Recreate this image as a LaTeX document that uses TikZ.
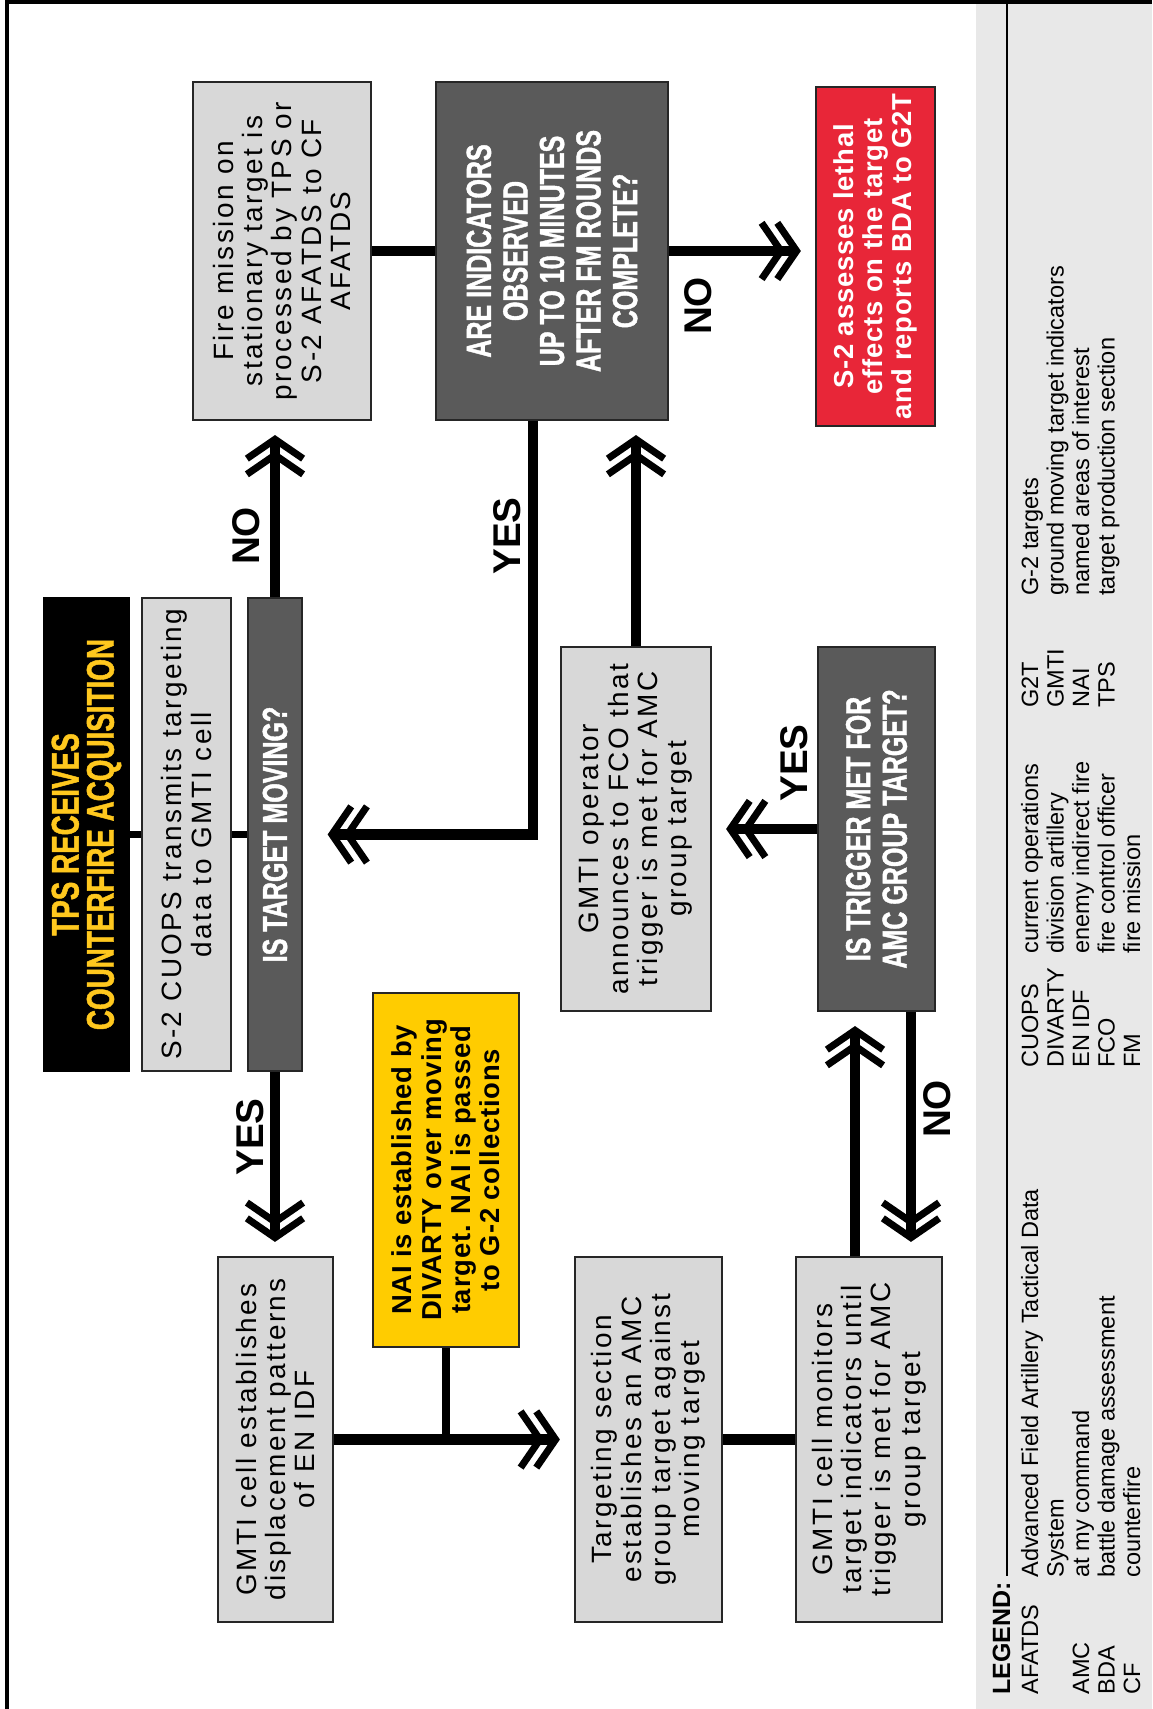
\documentclass[tikz,border=0pt]{standalone}
\usepackage{fontspec}
\setmainfont{Liberation Sans}
\newfontfamily\bodyfont{Liberation Sans}[LetterSpace=9]
\newfontfamily\boldbody{Liberation Sans}[LetterSpace=3]
\newfontfamily\headfont{Liberation Sans}[FakeStretch=0.72,FakeBold=1.2]
\usetikzlibrary{arrows.meta,positioning}

\definecolor{boxgray}{RGB}{216,216,216}
\definecolor{darkbox}{RGB}{90,90,90}
\definecolor{panelgray}{RGB}{232,232,232}
\definecolor{naiyellow}{RGB}{255,204,0}
\definecolor{titleyellow}{RGB}{255,200,30}
\definecolor{bdared}{RGB}{232,38,56}

\tikzset{
  box/.style={draw=black!85, line width=1.2pt, fill=boxgray, inner sep=0pt, align=center,
    font=\bodyfont\fontsize{15.9}{16.7}\selectfont},
  qbox/.style={box, fill=darkbox, text=white, font=\headfont\bfseries\fontsize{19.8}{20.8}\selectfont},
  titlebox/.style={box, draw=black, fill=black, text=titleyellow, font=\headfont\bfseries\fontsize{22}{20}\selectfont},
  redbox/.style={box, fill=bdared, text=white, font=\boldbody\bfseries\fontsize{15.6}{16.7}\selectfont},
  naibox/.style={box, fill=naiyellow, font=\boldbody\bfseries\fontsize{15.6}{16.7}\selectfont},
  lab/.style={inner sep=0pt, font=\bfseries\fontsize{22}{22}\selectfont},
  leg/.style={anchor=base west, inner sep=0pt, font=\fontsize{13.4}{14}\selectfont},
  link/.style={line width=5.8pt},
  thinlink/.style={line width=4.5pt},
  chev/.style={-{Straight Barb[length=11pt,width=32pt,line width=4pt,sep=-6.5pt]Straight Barb[length=11pt,width=32pt,line width=4pt]}, shorten >=8pt}
}

\begin{document}
\begin{tikzpicture}[x=0.02cm, y=0.02cm]
\begin{scope}[rotate=90, transform shape]
\useasboundingbox (0,0) rectangle (1709,1152);
% legend panel and frame
\fill[panelgray] (0,0) rectangle (1709,176);
\draw[line width=2.8pt] (0,1145) -- (1707,1145) -- (1707,0);

% boxes
\node[titlebox, minimum width=9.46cm, minimum height=1.70cm] (title) at (874.5,1065.5) {TPS RECEIVES\\COUNTERFIRE ACQUISITION};
\node[box, minimum width=9.46cm, minimum height=1.78cm] (cuops) at (874.5,965.5) {S-2 CUOPS transmits targeting\\data to GMTI cell};
\node[qbox, minimum width=9.46cm, minimum height=1.08cm] (moving) at (874.5,877) {IS TARGET MOVING?};
\node[box, minimum width=6.76cm, minimum height=3.56cm] (fire) at (1458,870) {Fire mission on\\stationary target is\\processed by TPS or\\S-2 AFATDS to CF\\AFATDS};
\node[qbox, minimum width=6.76cm, minimum height=4.64cm] (indic) at (1458,600) {ARE INDICATORS\\OBSERVED\\UP TO 10 MINUTES\\AFTER FM ROUNDS\\COMPLETE?};
\node[redbox, minimum width=6.78cm, minimum height=2.38cm] (bda) at (1452.5,276.5) {S-2 assesses lethal\\effects on the target\\and reports BDA to G2T};
\node[box, minimum width=7.28cm, minimum height=3.00cm] (announce) at (880,516) {GMTI operator\\announces to FCO that\\trigger is met for AMC\\group target};
\node[qbox, minimum width=7.28cm, minimum height=2.34cm] (trigger) at (880,275.5) {IS TRIGGER MET FOR\\AMC GROUP TARGET?};
\node[naibox, minimum width=7.08cm, minimum height=2.92cm] (nai) at (539,706) {NAI is established by\\DIVARTY over moving\\target. NAI is passed\\to G-2 collections};
\node[box, minimum width=7.30cm, minimum height=2.30cm] (pattern) at (269.5,876.5) {GMTI cell establishes\\displacement patterns\\of EN IDF};
\node[box, minimum width=7.30cm, minimum height=2.94cm] (amc) at (269.5,503.5) {Targeting section\\establishes an AMC\\group target against\\moving target};
\node[box, minimum width=7.30cm, minimum height=2.92cm] (monitor) at (269.5,283) {GMTI cell monitors\\target indicators until\\trigger is met for AMC\\group target};

% connectors
\draw[thinlink] (title.south) -- (cuops.north);
\draw[thinlink] (cuops.south) -- (moving.north);
\draw[link,chev] (moving.east) -- (moving.east -| fire.west);
\draw[link] (fire.south) -- (indic.north);
\draw[link,chev] (indic.south) -- (indic.south |- bda.north);
\draw[link,chev,shorten >=14pt] ([yshift=0.38cm]indic.west) -| (moving.south);
\draw[link,chev] (announce.east) -- (announce.east -| indic.west);
\draw[link,chev] (trigger.north) -- (announce.south);
\draw[link,chev] ([yshift=-0.69cm]trigger.west) -- ([yshift=-0.69cm]trigger.west -| monitor.east);
\draw[link,chev] ([yshift=0.28cm]monitor.east) -- ([yshift=0.28cm]monitor.east -| trigger.west);
\draw[link,chev] (moving.west) -- (moving.west -| pattern.east);
\draw[link,chev] (pattern.south) -- (amc.north);
\draw[thinlink] (nai.west) -- (nai.west -| pattern.south);
\draw[link] (amc.south) -- (monitor.north);

% yes / no
\node[lab] (noMove) at (1173,906) {NO};
\node[lab] (yesIndic) at (1173,645) {YES};
\node[lab] (noIndic) at (1403,454) {NO};
\node[lab] (yesTrig) at (946,358) {YES};
\node[lab] (noTrig) at (600,215) {NO};
\node[lab] (yesMove) at (572,902) {YES};

% legend
\node[anchor=base west, inner sep=0pt, font=\bfseries\fontsize{14.2}{14.2}\selectfont] (legend) at (14,142) {LEGEND:};
\draw[line width=1.2pt] (133,145) -- (1709,145);
\foreach \r/\ab/\df in {0/AFATDS/Advanced Field Artillery Tactical Data, 2/AMC/at my command, 3/BDA/battle damage assessment, 4/CF/counterfire} {
  \node[leg] (la\r) at (14,114-25.5*\r) {\ab};
  \node[leg] (ld\r) at (131,114-25.5*\r) {\df};
}
\node[leg] (ld1) at (131,88.5) {System};
\foreach \r/\ab/\df in {0/CUOPS/current operations, 1/DIVARTY/division artillery, 2/EN IDF/enemy indirect fire, 3/FCO/fire control officer, 4/FM/fire mission} {
  \node[leg] (lb\r) at (641,114-25.5*\r) {\ab};
  \node[leg] (le\r) at (755,114-25.5*\r) {\df};
}
\foreach \r/\ab/\df in {0/G2T/G-2 targets, 1/GMTI/ground moving target indicators, 2/NAI/named areas of interest, 3/TPS/target production section} {
  \node[leg] (lc\r) at (1001,114-25.5*\r) {\ab};
  \node[leg] (lf\r) at (1113,114-25.5*\r) {\df};
}
\end{scope}
\end{tikzpicture}
\end{document}
